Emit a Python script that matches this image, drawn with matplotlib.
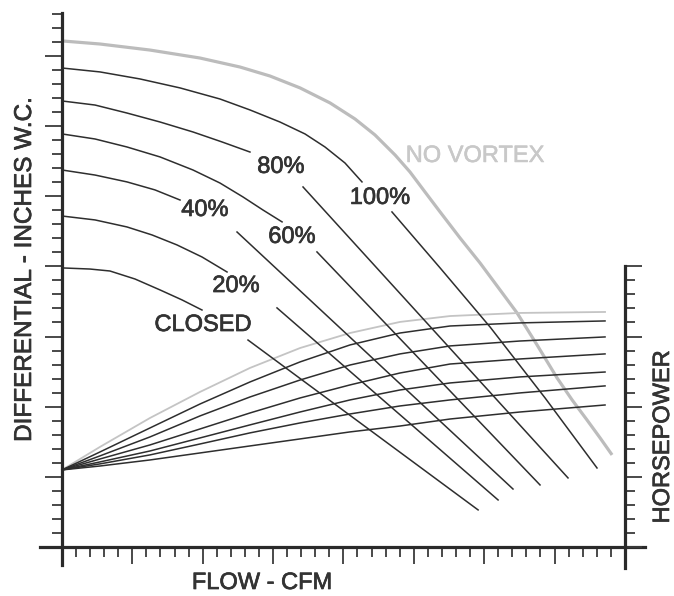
import numpy as np
import matplotlib
matplotlib.use("Agg")
import matplotlib.pyplot as plt
import matplotlib.patheffects as pe

plt.rcParams['font.family'] = ['Liberation Sans', 'DejaVu Sans']

# ---- data (flow / pressure / horsepower in chart grid units) ----
nv_x = [0, 2.70, 6.25, 9.81, 12.65, 14.78, 16.92, 19.05, 20.82, 22.24, 23.67, 24.73,
        25.8, 26.87, 28.29, 29.71, 31.13, 32.34, 33.76, 35.18, 36.25, 37.31, 38.24, 39.09]
nv_y = [36.07, 35.85, 35.42, 34.85, 34.21, 33.57, 32.72, 31.65, 30.51, 29.37, 27.94, 26.73,
        25.3, 23.88, 22.02, 20.24, 18.32, 16.68, 14.4, 12.05, 10.48, 9.05, 7.77, 6.56]

p100_x = [0, 2.70, 5.54, 8.39, 11.23, 13.36, 15.49, 17.27, 18.69, 20.11, 21.32,
          np.nan, 23.45, 26.87, 30.42, 34.33, 38.02]
p100_y = [34.14, 33.86, 33.36, 32.72, 31.93, 31.15, 30.29, 29.44, 28.51, 27.37, 26.02,
          np.nan, 23.88, 19.89, 15.68, 10.62, 5.63]
p80_x = [0, 2.35, 4.62, 6.97, 9.31, 11.37, 13.36, np.nan, 17.13, 35.96]
p80_y = [31.79, 31.5, 30.93, 30.29, 29.58, 28.87, 28.15, np.nan, 25.66, 4.92]
p60_x = [0, 2.35, 4.62, 6.97, 9.31, 11.23, 12.86, 14.28, 15.64, np.nan, 18.12, 33.97]
p60_y = [29.44, 29.08, 28.51, 27.8, 26.87, 25.94, 24.95, 24.02, 23.17, np.nan, 21.03, 4.42]
p40_x = [0, 2.35, 4.62, 6.61, 8.39, np.nan, 12.44, 32.05]
p40_y = [26.87, 26.51, 26.02, 25.45, 24.73, np.nan, 22.45, 4.13]
p20_x = [0, 2.35, 4.62, 6.40, 8.17, 9.95, 11.73, np.nan, 15.28, 30.99]
p20_y = [23.59, 23.31, 22.81, 22.24, 21.53, 20.67, 19.6, np.nan, 17.04, 3.35]
pcl_x = [0, 1.99, 3.41, 5.19, 6.97, 8.53, 9.95, np.nan, 13.22, 29.57]
pcl_y = [19.89, 19.81, 19.67, 19.1, 18.32, 17.61, 16.89, np.nan, 14.75, 2.64]

hp_x = [0, 2.70, 6.25, 9.81, 13.36, 16.92, 20.47, 24.02, 27.58, 32.55, 38.59]
hp_nv = [5.49, 7.13, 9.19, 11.05, 12.76, 14.18, 15.25, 16.04, 16.46, 16.68, 16.75]
hp_100 = [5.49, 6.77, 8.48, 10.19, 11.76, 13.19, 14.4, 15.25, 15.75, 15.97, 16.11]
hp_80 = [5.49, 6.49, 7.84, 9.34, 10.69, 11.9, 12.97, 13.76, 14.33, 14.68, 14.97]
hp_60 = [5.49, 6.27, 7.27, 8.41, 9.55, 10.62, 11.55, 12.4, 13.04, 13.4, 13.76]
hp_40 = [5.49, 6.06, 6.84, 7.77, 8.7, 9.62, 10.48, 11.19, 11.69, 12.12, 12.47]
hp_20 = [5.49, 5.92, 6.56, 7.34, 8.13, 8.84, 9.48, 10.05, 10.48, 10.98, 11.48]
hp_cl = [5.49, 5.77, 6.2, 6.7, 7.2, 7.7, 8.2, 8.62, 9.12, 9.62, 10.12]

labels = ["100%", "80%", "60%", "40%", "20%", "CLOSED"]
label_x = [22.6, 15.56, 16.35, 10.16, 12.37, 10.02]
label_y = [24.88, 27.09, 22.1, 24.02, 18.6, 15.82]

# ---- figure ----
W, H = 674, 596
fig = plt.figure(figsize=(W / 100, H / 100), dpi=100)
ax = fig.add_axes([40 / W, 28 / H, 605 / W, 555 / H])
ax.set_xlim(-1.56, 41.43)
ax.set_ylim(-1.5, 38.06)

dark = '#2e2e2e'
gray = '#bcbcbc'

ax.plot(nv_x, nv_y, color=gray, lw=2.3, solid_capstyle='butt')
ax.plot(hp_x, hp_nv, color='#c4c4c4', lw=1.3)
for xs, ys in [(p100_x, p100_y), (p80_x, p80_y), (p60_x, p60_y),
               (p40_x, p40_y), (p20_x, p20_y), (pcl_x, pcl_y)]:
    ax.plot(xs, ys, color=dark, lw=1.1)
for ys in [hp_100, hp_80, hp_60, hp_40, hp_20, hp_cl]:
    ax.plot(hp_x, ys, color=dark, lw=1.1)

thick = [pe.withStroke(linewidth=0.5, foreground='#333333')]
for t, x, y in zip(labels, label_x, label_y):
    ax.text(x, y, t, ha='center', va='center', fontsize=17, color='#333333',
            path_effects=thick)
ax.text(29.35, 27.87, "NO VORTEX", ha='center', va='center', fontsize=17, color='#c8c8c8',
        path_effects=[pe.withStroke(linewidth=0.4, foreground='#c8c8c8')])

# spines
spc = '#2a2a2a'
for s in ['top', 'right']:
    ax.spines[s].set_visible(False)
ax.spines['left'].set_position(('data', 0))
ax.spines['bottom'].set_position(('data', 0))
ax.spines['left'].set_bounds(-1.28, 38.06)
ax.spines['bottom'].set_bounds(-1.56, 41.43)
for s in ['left', 'bottom']:
    ax.spines[s].set_linewidth(2.3)
    ax.spines[s].set_color(spc)

ax.set_xticks(np.arange(0, 41, 5))
ax.set_xticks(np.arange(0, 41, 1), minor=True)
ax.set_yticks(np.arange(0, 36, 5))
ax.set_yticks(np.arange(0, 39, 1), minor=True)
ax.tick_params(which='major', direction='out', length=12.5, width=1.3, color='#3a3a3a',
               labelbottom=False, labelleft=False)
ax.tick_params(which='minor', direction='out', length=7.5, width=1.3, color='#3a3a3a')

ax2 = ax.twinx()
ax2.set_ylim(ax.get_ylim())
for s in ['top', 'left', 'bottom']:
    ax2.spines[s].set_visible(False)
ax2.spines['right'].set_position(('data', 40))
ax2.spines['right'].set_bounds(-1.5, 20)
ax2.spines['right'].set_linewidth(2.3)
ax2.spines['right'].set_color(spc)
ax2.set_yticks(np.arange(0, 21, 5))
ax2.set_yticks(np.arange(0, 21, 1), minor=True)
ax2.tick_params(which='major', direction='out', length=12.5, width=1.3, color='#3a3a3a',
                labelright=False)
ax2.tick_params(which='minor', direction='out', length=7.5, width=1.3, color='#3a3a3a')

# axis titles
fig.text(25 / W, 1 - 270 / H, "DIFFERENTIAL - INCHES W.C.", rotation=90, ha='center',
         va='center', fontsize=17.5, color='#333333', path_effects=thick)
fig.text(663 / W, 1 - 437 / H, "HORSEPOWER", rotation=90, ha='center', va='center',
         fontsize=17, color='#333333', path_effects=thick)
fig.text(262 / W, 1 - 583 / H, "FLOW - CFM", ha='center', va='center', fontsize=17,
         color='#333333', path_effects=thick)

fig.savefig('out.png', dpi=100)
